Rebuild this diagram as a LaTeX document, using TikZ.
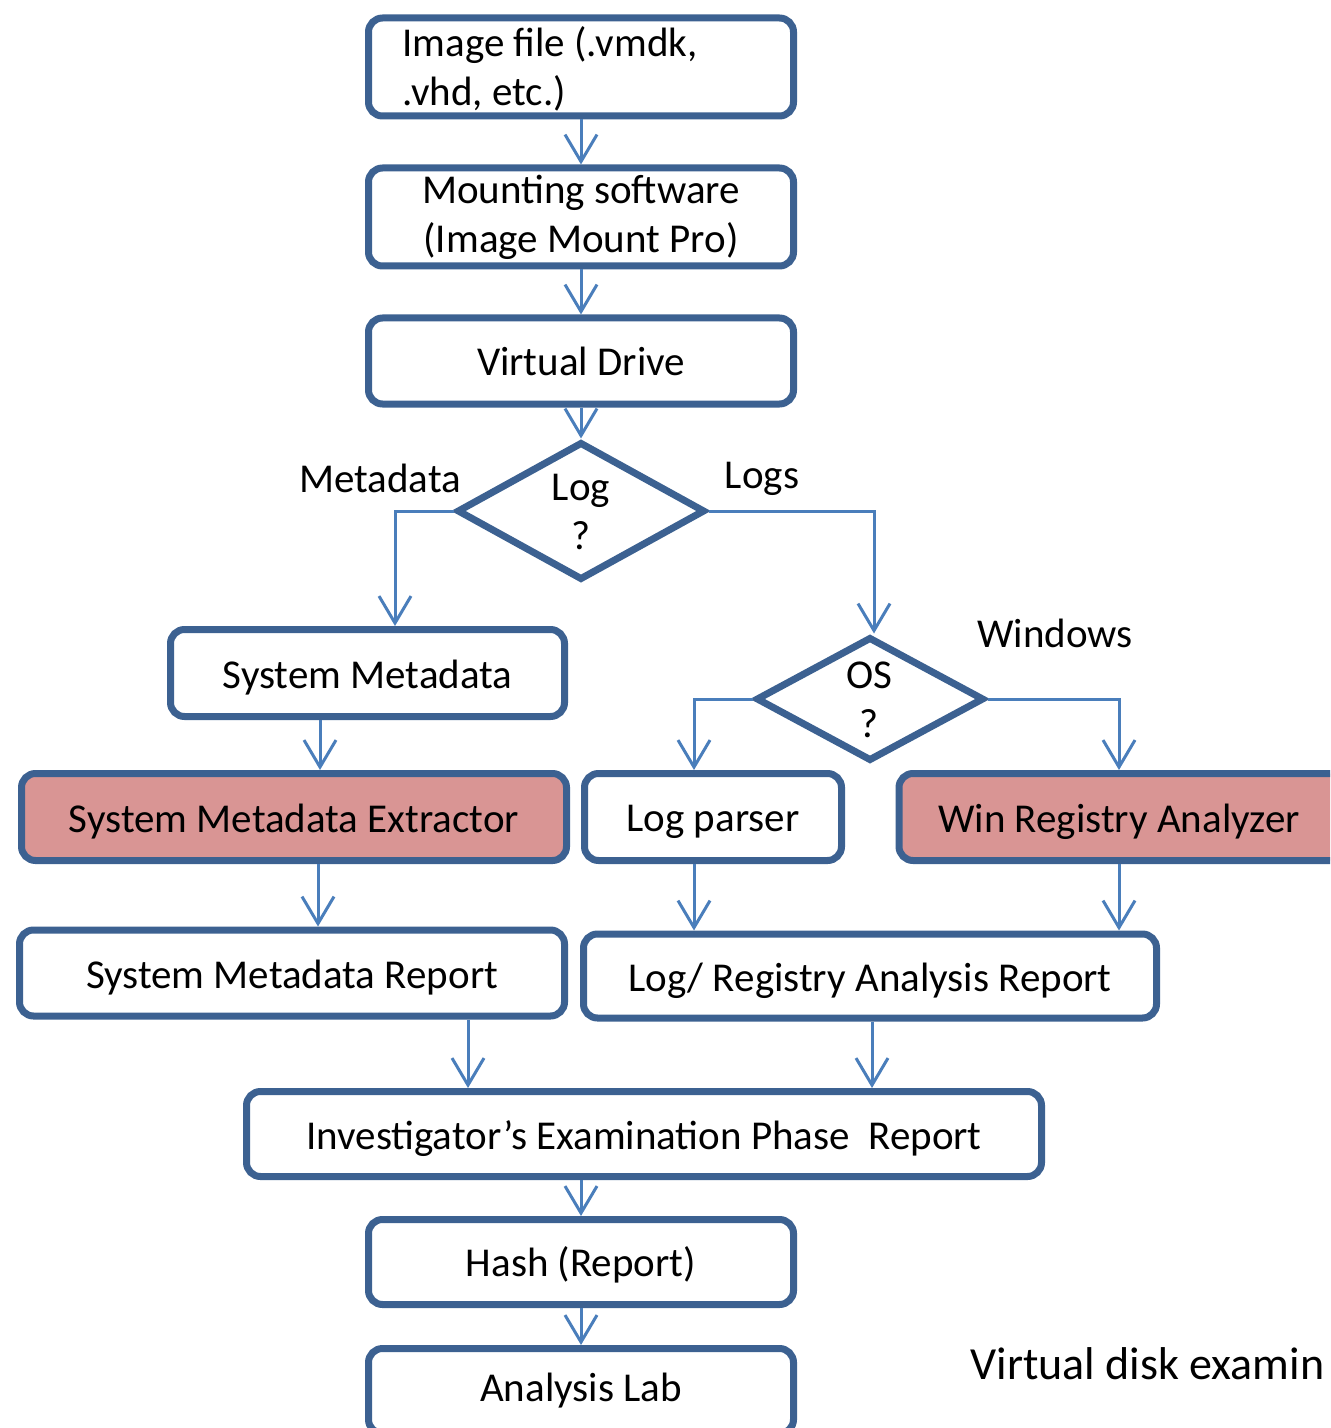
\documentclass[tikz,border=0pt]{standalone}
\usepackage{fontspec}
\setmainfont{Carlito}
\usetikzlibrary{arrows.meta,shapes.geometric}
\definecolor{boxblue}{HTML}{3C6191}
\definecolor{linkblue}{HTML}{4A7EBB}
\definecolor{boxpink}{HTML}{D99594}
\newcommand\lowr[2]{\raisebox{-#1}[\height][\depth]{#2}}
\begin{document}
\begin{tikzpicture}[x=0.5pt,y=-0.5pt,
  every node/.style={font=\fontsize{20.5pt}{24.5pt}\selectfont, text=black},
  box/.style={draw=boxblue, line width=3.5pt, rounded corners=7pt, fill=white, inner sep=0pt, align=center},
  pinkbox/.style={box, fill=boxpink},
  dia/.style={draw=boxblue, line width=3.5pt, diamond, fill=white, inner sep=0pt},
  link/.style={draw=linkblue, line width=1.5pt, -{Straight Barb[length=13.5pt,width=16pt]}},
  lbl/.style={inner sep=0pt}
]
\clip (0,0) rectangle (1330,1428);
\fill[white] (0,0) rectangle (1330,1428);

% column helpers
\coordinate (c320) at (320,0);
\coordinate (c318) at (318,0);
\coordinate (c395) at (395,0);
\coordinate (c874) at (874,0);
\coordinate (c694) at (694,0);
\coordinate (c1119) at (1119,0);
\coordinate (c468) at (468,0);
\coordinate (c872) at (872,0);

\node[box, minimum width=212.5pt, minimum height=49pt] (img) at (581,67) {};
\node[lbl, anchor=west, align=left] (imgt) at (402,69) {Image file (.vmdk,\\.vhd, etc.)};
\node[box, minimum width=212.5pt, minimum height=49pt] (mount) at (581,217) {Mounting software\\(Image Mount Pro)};
\node[box, minimum width=212.5pt, minimum height=43pt] (vdrive) at (581,361) {Virtual Drive};

\node[dia, minimum width=124pt, minimum height=69pt] (logd) at (581,511) {};
\node[lbl, align=center] (logt) at (581,512) {Log\\?};

\node[box, minimum width=197pt, minimum height=43.5pt] (sysmeta) at (367.5,673) {\lowr{2.5pt}{System Metadata}};

\node[dia, minimum width=114pt, minimum height=62pt] (osd) at (870,699) {};
\node[lbl, align=center] (ost) at (869,700) {OS\\?};

\node[pinkbox, minimum width=272.5pt, minimum height=43.5pt] (extr) at (294,817) {\lowr{2.5pt}{System Metadata Extractor}};
\node[box, minimum width=128.5pt, minimum height=43.5pt] (logp) at (713,817) {\lowr{2.5pt}{Log parser}};
\node[pinkbox, minimum width=230pt, minimum height=43.5pt] (winreg) at (1129,817) {\hspace*{-10pt}\lowr{2.5pt}{Win Registry Analyzer}};

\node[box, minimum width=272.5pt, minimum height=43pt] (smrep) at (292,973) {\lowr{2.5pt}{System Metadata Report}};
\node[box, minimum width=286.5pt, minimum height=42pt] (lrrep) at (870,976) {\lowr{2.5pt}{Log/ Registry Analysis Report}};

\node[box, minimum width=397.5pt, minimum height=42.5pt] (invest) at (644,1134) {\lowr{2.5pt}{Investigator’s Examination Phase\ \ Report}};
\node[box, minimum width=212.5pt, minimum height=42.5pt] (hash) at (581,1262) {\lowr{1.5pt}{Hash (Report)}};
\node[box, minimum width=212.5pt, minimum height=42.5pt] (lab) at (581,1391) {Analysis Lab};

\node[lbl] (lmeta) at (380,478) {Metadata};
\node[lbl] (llogs) at (762,479) {Logs};
\node[lbl] (lwin) at (1055,633) {Windows};

\node[lbl, anchor=west, font=\fontsize{23pt}{27pt}\selectfont] (vde) at (970,1364) {Virtual disk examin};

% connectors
\draw[link] (img) -- (mount);
\draw[link] (mount) -- (vdrive);
\draw[link] (vdrive) -- (logd);
\draw[link] (logd.west) -| (sysmeta.north -| c395);
\draw[link] (logd.east) -| (osd.north -| c874);
\draw[link] (sysmeta.south -| c320) -- (extr.north -| c320);
\draw[link] (osd.west) -| (logp.north -| c694);
\draw[link] (osd.east) -| (winreg.north -| c1119);
\draw[link] (extr.south -| c318) -- (smrep.north -| c318);
\draw[link] (logp.south -| c694) -- (lrrep.north -| c694);
\draw[link] (winreg.south -| c1119) -- (lrrep.north -| c1119);
\draw[link] (smrep.south -| c468) -- (invest.north -| c468);
\draw[link] (lrrep.south -| c872) -- (invest.north -| c872);
\draw[link] (invest.south -| hash.north) -- (hash.north);
\draw[link] (hash) -- (lab);
\end{tikzpicture}
\end{document}
